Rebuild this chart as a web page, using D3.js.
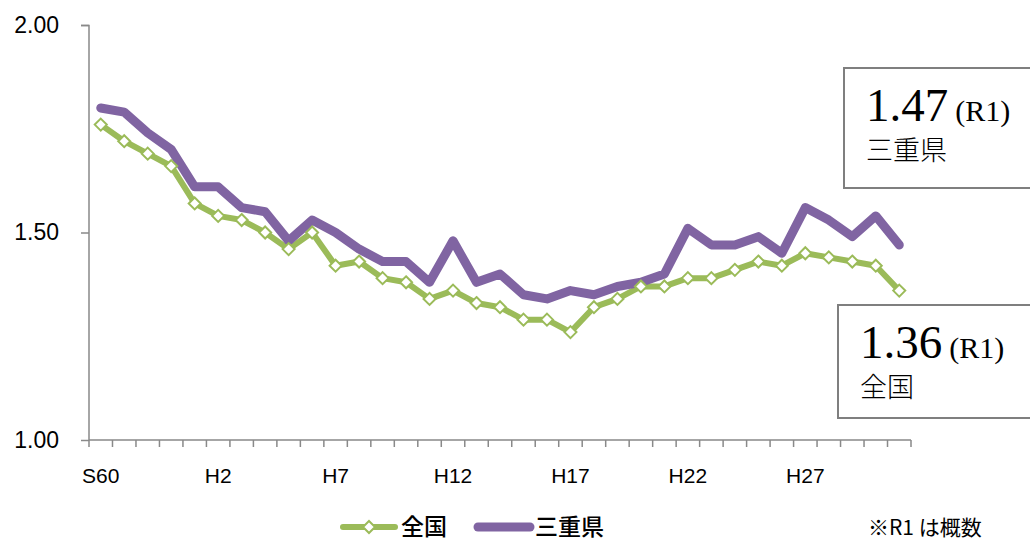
<!DOCTYPE html>
<html>
<head>
<meta charset="utf-8">
<script src="https://cdn.jsdelivr.net/npm/d3@7"></script>
<style>
  body { margin: 0; background: #fff; }
  svg { display: block; }
</style>
</head>
<body>
<svg id="chart" width="1030" height="542"></svg>
<script>
// 年次 (S60〜R1)
var years = ["S60","S61","S62","S63","H1","H2","H3","H4","H5","H6","H7","H8","H9","H10",
  "H11","H12","H13","H14","H15","H16","H17","H18","H19","H20","H21","H22","H23","H24",
  "H25","H26","H27","H28","H29","H30","R1"];
var tickLabels = ["S60","H2","H7","H12","H17","H22","H27"];
var yTicks = [1.00, 1.50, 2.00];

var zenkoku = [1.76,1.72,1.69,1.66,1.57,1.54,1.53,1.50,1.46,1.50,1.42,1.43,1.39,1.38,
  1.34,1.36,1.33,1.32,1.29,1.29,1.26,1.32,1.34,1.37,1.37,1.39,1.39,1.41,
  1.43,1.42,1.45,1.44,1.43,1.42,1.36];
var mie = [1.80,1.79,1.74,1.70,1.61,1.61,1.56,1.55,1.48,1.53,1.50,1.46,1.43,1.43,
  1.38,1.48,1.38,1.40,1.35,1.34,1.36,1.35,1.37,1.38,1.40,1.51,1.47,1.47,
  1.49,1.45,1.56,1.53,1.49,1.54,1.47];

var green = "#9bbb59", purple = "#8064a2", axisGrey = "#898989";
var sans = "'Liberation Sans', Arial, sans-serif";
var cjk = "'Noto Sans CJK JP', sans-serif";
var svg = d3.select("#chart");

var x = d3.scaleBand().domain(years).range([89, 911]).padding(0);
var y = d3.scaleLinear().domain([1, 2]).range([440, 25]);
var cx = function (i) { return x(years[i]) + x.bandwidth() / 2; };

// y axis
var yAxis = svg.append("g").attr("transform", "translate(89,0)")
  .call(d3.axisLeft(y).tickValues(yTicks).tickFormat(d3.format(".2f")).tickSize(8).tickPadding(22));
yAxis.select(".domain").attr("stroke", axisGrey).attr("stroke-width", 1.5).attr("d", "M-8,25.5H0V440");
yAxis.selectAll(".tick line").attr("stroke", axisGrey).attr("stroke-width", 1.5);
yAxis.selectAll("text").attr("fill", "#000")
  .style("font-family", sans).style("font-size", "23px");
yAxis.attr("font-family", null).attr("font-size", null);

// x axis
var xg = svg.append("g");
xg.append("line").attr("x1", 89).attr("x2", 911).attr("y1", 440).attr("y2", 440)
  .attr("stroke", axisGrey).attr("stroke-width", 1.5);
var bounds = years.map(function (d) { return x(d); }).concat([911]);
xg.selectAll("line.tk").data(bounds).enter().append("line").attr("class", "tk")
  .attr("x1", function (d) { return d; }).attr("x2", function (d) { return d; })
  .attr("y1", 440).attr("y2", 447).attr("stroke", axisGrey).attr("stroke-width", 1.5);
xg.selectAll("text").data(tickLabels).enter().append("text")
  .attr("x", function (d) { return x(d) + x.bandwidth() / 2; })
  .attr("y", 483).attr("text-anchor", "middle")
  .style("font-family", sans).style("font-size", "21px")
  .text(String);

var line = d3.line().x(function (d, i) { return cx(i); }).y(function (d) { return y(d); });

svg.append("path").datum(zenkoku).attr("d", line).attr("fill", "none")
  .attr("stroke", green).attr("stroke-width", 6).attr("stroke-linejoin", "round").attr("stroke-linecap", "round");
svg.append("path").datum(mie).attr("d", line).attr("fill", "none")
  .attr("stroke", purple).attr("stroke-width", 9).attr("stroke-linejoin", "round").attr("stroke-linecap", "round");

var diamond = "M0,-6L6,0L0,6L-6,0Z";
svg.selectAll("path.mk").data(zenkoku).enter().append("path").attr("class", "mk")
  .attr("d", diamond)
  .attr("transform", function (d, i) { return "translate(" + cx(i) + "," + y(d) + ")"; })
  .attr("fill", "#fff").attr("stroke", green).attr("stroke-width", 2);

// annotation boxes
function note(bx, by, bh, value, name) {
  var g = svg.append("g");
  g.append("rect").attr("x", bx).attr("y", by).attr("width", 1030 - bx + 5).attr("height", bh)
    .attr("fill", "#fff").attr("stroke", "#7f7f7f").attr("stroke-width", 2);
  var t = g.append("text").attr("x", bx + 22).attr("y", by + 53)
    .style("font-family", "'Liberation Serif', 'Times New Roman', serif").attr("fill", "#000");
  t.append("tspan").style("font-size", "47px").text(value);
  t.append("tspan").style("font-size", "30px").attr("dx", 7).text("(R1)");
  g.append("text").attr("x", bx + 22).attr("y", by + 92)
    .style("font-family", cjk).style("font-size", "27px")
    .style("font-weight", 300).text(name);
}
note(844, 68, 120, "1.47", "三重県");
note(838, 305, 113, "1.36", "全国");

// legend
var lg = svg.append("g");
lg.append("line").attr("x1", 343).attr("x2", 395).attr("y1", 527).attr("y2", 527)
  .attr("stroke", green).attr("stroke-width", 6).attr("stroke-linecap", "round");
lg.append("path").attr("d", diamond).attr("transform", "translate(369,527)")
  .attr("fill", "#fff").attr("stroke", green).attr("stroke-width", 2);
lg.append("text").attr("x", 401).attr("y", 535)
  .style("font-family", cjk).style("font-size", "23px").style("font-weight", 500)
  .text("全国");
lg.append("line").attr("x1", 478).attr("x2", 530).attr("y1", 527).attr("y2", 527)
  .attr("stroke", purple).attr("stroke-width", 9).attr("stroke-linecap", "round");
lg.append("text").attr("x", 535).attr("y", 535)
  .style("font-family", cjk).style("font-size", "23px").style("font-weight", 500)
  .text("三重県");
svg.append("text").attr("x", 868).attr("y", 535)
  .style("font-family", cjk).style("font-size", "21px")
  .text("※R1 は概数");
</script>
</body>
</html>
